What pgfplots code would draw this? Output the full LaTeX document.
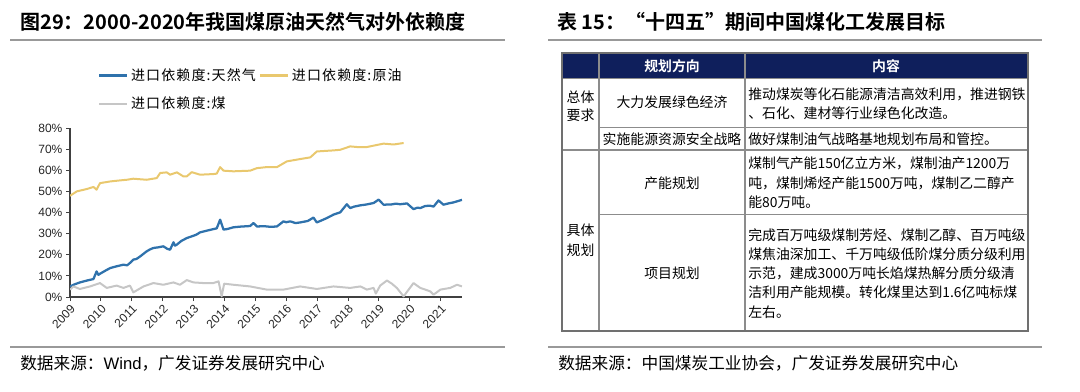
\documentclass[border=0pt]{standalone}
\usepackage{fontspec}
\usepackage{pgfplots}
\pgfplotsset{compat=1.18}
\setmainfont{Noto Sans CJK SC}
\newfontfamily\arial{Liberation Sans}
\newfontfamily\cjkb{Noto Sans CJK SC Bold}
\newfontfamily\lgd[LetterSpace=8]{Noto Sans CJK SC}
\definecolor{gasblue}{HTML}{2F72AC}
\definecolor{oilyel}{HTML}{E9C86E}
\definecolor{coalgray}{HTML}{C6C6C6}
\definecolor{navy}{HTML}{0F1F5C}
\definecolor{gridg}{HTML}{8C8C8C}
\pgfplotstableread{
x y
2009.00 5.0
2009.15 6.0
2009.32 6.9
2009.55 7.8
2009.76 8.5
2009.86 12.1
2009.92 10.5
2009.97 11.0
2010.15 12.5
2010.30 13.7
2010.50 14.5
2010.73 15.3
2010.85 15.0
2010.94 16.1
2011.05 17.7
2011.15 18.0
2011.27 19.2
2011.48 21.6
2011.60 22.6
2011.70 23.2
2011.85 23.5
2012.02 24.0
2012.15 22.8
2012.24 22.4
2012.35 25.9
2012.40 24.3
2012.46 24.8
2012.60 26.5
2012.78 27.9
2013.00 29.0
2013.10 29.6
2013.21 30.6
2013.43 31.4
2013.60 32.0
2013.75 32.5
2013.86 36.6
2013.97 31.9
2014.10 32.2
2014.29 33.0
2014.50 33.3
2014.83 33.6
2014.94 35.0
2015.05 33.4
2015.30 33.5
2015.50 33.2
2015.70 33.4
2015.91 35.8
2016.00 35.4
2016.13 35.8
2016.30 35.0
2016.45 35.3
2016.70 36.0
2016.88 37.6
2016.99 35.3
2017.15 36.3
2017.32 37.4
2017.53 39.0
2017.75 40.1
2017.96 43.9
2018.07 42.1
2018.20 42.8
2018.40 43.4
2018.60 43.8
2018.83 44.5
2018.99 46.1
2019.15 43.7
2019.40 43.8
2019.55 44.2
2019.69 43.9
2019.91 44.3
2020.12 41.6
2020.25 42.3
2020.34 42.1
2020.50 43.1
2020.66 43.2
2020.77 42.8
2020.93 45.7
2021.09 43.7
2021.25 44.3
2021.42 44.8
2021.69 46.0
}\gas
\pgfplotstableread{
x y
2009.00 47.9
2009.22 50.0
2009.54 51.1
2009.76 52.1
2009.86 50.8
2009.97 53.9
2010.30 54.7
2010.62 55.2
2010.84 55.5
2011.05 56.0
2011.48 55.5
2011.81 56.3
2011.92 58.7
2012.13 59.0
2012.24 57.9
2012.46 59.0
2012.67 57.1
2012.78 57.1
2012.94 59.1
2013.21 57.9
2013.64 58.2
2013.75 58.4
2013.86 61.5
2013.97 59.8
2014.29 59.5
2014.83 59.8
2015.05 61.0
2015.37 61.5
2015.70 61.5
2016.02 64.2
2016.45 65.3
2016.78 66.1
2016.99 68.9
2017.53 69.4
2017.75 69.7
2018.07 71.3
2018.29 71.0
2018.61 71.0
2019.15 72.6
2019.48 72.2
2019.80 72.9
}\oil
\pgfplotstableread{
x y
2009.00 3.5
2009.11 5.0
2009.32 3.8
2009.65 5.0
2009.97 6.6
2010.19 4.3
2010.51 5.4
2010.73 4.3
2010.94 5.4
2011.05 2.2
2011.38 5.0
2011.70 6.6
2012.02 5.8
2012.35 6.9
2012.56 5.8
2012.78 8.0
2013.00 6.9
2013.32 6.6
2013.64 6.6
2013.81 7.4
2013.91 0.3
2013.99 6.3
2014.29 5.8
2014.83 5.0
2015.37 3.5
2015.91 3.5
2016.45 5.0
2016.99 3.8
2017.53 5.0
2018.07 4.3
2018.40 5.0
2018.61 3.5
2018.83 4.3
2018.90 1.6
2019.04 5.4
2019.26 7.8
2019.42 6.3
2019.58 4.3
2019.80 0.3
2020.12 6.6
2020.34 4.3
2020.66 2.7
2020.77 1.1
2020.99 3.5
2021.31 4.3
2021.53 5.8
2021.69 5.0
}\coal
\begin{document}
\begin{tikzpicture}
\useasboundingbox (0,0) rectangle (810pt,-294pt);
\begin{axis}[
  at={(52.5pt,-222.75pt)}, anchor=south west,
  scale only axis, width=294pt, height=126.75pt,
  xmin=2009, xmax=2021.69, ymin=0, ymax=80,
  axis x line=bottom, axis y line=left,
  axis line style={-, draw=black!75, line width=0.8pt},
  xtick={2009,...,2021},
  xticklabels={2009,2010,2011,2012,2013,2014,2015,2016,2017,2018,2019,2020,2021},
  ytick={0,10,...,80},
  yticklabels={0\%,10\%,20\%,30\%,40\%,50\%,60\%,70\%,80\%},
  tick align=outside, major tick length=3pt,
  tick style={draw=black!75, line width=0.7pt},
  ticklabel style={font=\arial\fontsize{9}{10}\selectfont, text=black!85},
  xticklabel style={rotate=45, anchor=north east, inner sep=1.5pt},
  yticklabel style={inner sep=2.5pt},
  legend columns=2,
  legend style={draw=none, fill=none, at={(axis description cs:0.07,1.37)}, anchor=north west,
    font=\lgd\fontsize{10.5}{12}\selectfont, row sep=7pt,
    /tikz/every even column/.append style={column sep=0pt},
    inner sep=0pt},
  legend cell align=left,
  legend image code/.code={\draw[#1, line width=2pt] (0pt,0pt) -- (21pt,0pt);},
]
\addplot[gasblue, line width=1.7pt, line join=round] table[x=x,y=y] {\gas};
\addlegendentry{进口依赖度:天然气}
\addplot[oilyel, line width=1.5pt, line join=round] table[x=x,y=y] {\oil};
\addlegendentry{进口依赖度:原油}
\addplot[coalgray, line width=1.5pt, line join=round] table[x=x,y=y] {\coal};
\addlegendentry{进口依赖度:煤}
\end{axis}
\begin{scope}[x=0.75pt,y=-0.75pt]
% titles
\node[anchor=west, inner sep=0pt] at (20,22) {\cjkb\fontsize{15}{16}\selectfont 图29：2000-2020年我国煤原油天然气对外依赖度};
\node[anchor=west, inner sep=0pt] at (557,22) {\cjkb\fontsize{15}{16}\selectfont 表 15：“十四五”期间中国煤化工发展目标};
\draw[gray!80, line width=1pt] (10,40) -- (505,40);
\draw[gray!80, line width=1pt] (548,40) -- (1042,40);
\draw[gray!80, line width=1pt] (10,347) -- (505,347);
\draw[gray!80, line width=1pt] (548,347) -- (1042,347);
\node[anchor=west, inner sep=0pt] at (20,363) {\fontsize{12.5}{14}\selectfont 数据来源：{\arial Wind}，广发证券发展研究中心};
\node[anchor=west, inner sep=0pt] at (558,363) {\fontsize{12.5}{14}\selectfont 数据来源：中国煤炭工业协会，广发证券发展研究中心};
% table
\fill[navy] (562,53) rectangle (1028,78);
\draw[gridg, line width=0.6pt] (562,78) -- (1028,78);
\draw[gridg, line width=0.6pt] (599,127) -- (1028,127);
\draw[gridg, line width=0.9pt] (562,150) -- (1028,150);
\draw[gridg, line width=0.6pt] (599,214) -- (1028,214);
\draw[gridg, line width=0.9pt] (599,53) -- (599,331);
\draw[gridg, line width=0.9pt] (745,53) -- (745,331);
\draw[gridg!80!black, line width=1pt] (562,53) rectangle (1028,331);
\begin{scope}[every node/.style={inner sep=0pt, font=\fontsize{10.4}{14.6}\selectfont}]
\node[text=white] at (672,66) {\cjkb\fontsize{10.4}{12}\selectfont 规划方向};
\node[text=white] at (886,66) {\cjkb\fontsize{10.4}{12}\selectfont 内容};
\node at (580.5,97) {总体};
\node at (580.5,115) {要求};
\node at (580.5,230) {具体};
\node at (580.5,250) {规划};
\node at (672,102) {大力发展绿色经济};
\node at (672,139) {实施能源资源安全战略};
\node at (672,183) {产能规划};
\node at (672,273) {项目规划};
\node[anchor=west] at (748,94) {推动煤炭等化石能源清洁高效利用，推进钢铁};
\node[anchor=west] at (748,113) {、石化、建材等行业绿色化改造。};
\node[anchor=west] at (748,139) {做好煤制油气战略基地规划布局和管控。};
\node[anchor=west] at (748,163) {煤制气产能150亿立方米，煤制油产1200万};
\node[anchor=west] at (748,183) {吨，煤制烯烃产能1500万吨，煤制乙二醇产};
\node[anchor=west] at (748,202) {能80万吨。};
\node[anchor=west] at (748,235) {完成百万吨级煤制芳烃、煤制乙醇、百万吨级};
\node[anchor=west] at (748,254) {煤焦油深加工、千万吨级低阶煤分质分级利用};
\node[anchor=west] at (748,273) {示范，建成3000万吨长焰煤热解分质分级清};
\node[anchor=west] at (748,292) {洁利用产能规模。转化煤里达到1.6亿吨标煤};
\node[anchor=west] at (748,312) {左右。};
\end{scope}
\end{scope}
\end{tikzpicture}
\end{document}
